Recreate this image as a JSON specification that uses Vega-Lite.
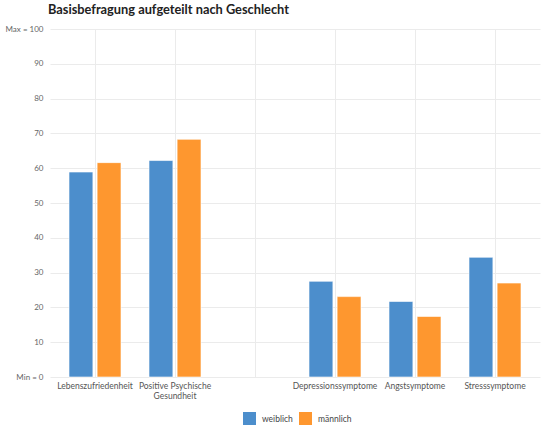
{
  "$schema": "https://vega.github.io/schema/vega-lite/v6.json",
  "width": 490,
  "height": 348,
  "autosize": {"type": "none"},
  "padding": {"left": 50, "top": 29, "right": 3, "bottom": 48},
  "background": "#ffffff",
  "title": {
    "text": "Basisbefragung aufgeteilt nach Geschlecht",
    "anchor": "start",
    "frame": "group",
    "dx": -2,
    "offset": 8,
    "font": "Lato",
    "fontSize": 12.8,
    "fontWeight": "bold",
    "color": "#222222"
  },
  "data": {
    "values": [
      {"bereich": "Lebenszufriedenheit", "geschlecht": "weiblich", "wert": 58.9},
      {"bereich": "Lebenszufriedenheit", "geschlecht": "männlich", "wert": 61.6},
      {"bereich": "Positive Psychische Gesundheit", "geschlecht": "weiblich", "wert": 62.2},
      {"bereich": "Positive Psychische Gesundheit", "geschlecht": "männlich", "wert": 68.3},
      {"bereich": "Depressionssymptome", "geschlecht": "weiblich", "wert": 27.5},
      {"bereich": "Depressionssymptome", "geschlecht": "männlich", "wert": 23.1},
      {"bereich": "Angstsymptome", "geschlecht": "weiblich", "wert": 21.7},
      {"bereich": "Angstsymptome", "geschlecht": "männlich", "wert": 17.4},
      {"bereich": "Stresssymptome", "geschlecht": "weiblich", "wert": 34.4},
      {"bereich": "Stresssymptome", "geschlecht": "männlich", "wert": 27.0}
    ]
  },
  "mark": {"type": "bar", "stroke": "#ffffff", "strokeOpacity": 0.6, "strokeWidth": 1},
  "encoding": {
    "x": {
      "field": "bereich",
      "type": "nominal",
      "sort": null,
      "scale": {
        "domain": ["Lebenszufriedenheit", "Positive Psychische Gesundheit", "", "Depressionssymptome", "Angstsymptome", "Stresssymptome"],
        "paddingInner": 0.35,
        "paddingOuter": 0.2375
      },
      "axis": {
        "title": null,
        "labelAngle": 0,
        "domain": false,
        "ticks": false,
        "grid": true,
        "gridColor": "#ebebeb",
        "labelFont": "Lato",
        "labelFontSize": 8.5,
        "labelColor": "#555555",
        "labelPadding": 4,
        "labelExpr": "datum.value == 'Positive Psychische Gesundheit' ? ['Positive Psychische', 'Gesundheit'] : datum.value"
      }
    },
    "xOffset": {
      "field": "geschlecht",
      "type": "nominal",
      "scale": {"domain": ["weiblich", "männlich"], "paddingInner": 0.15, "paddingOuter": 0}
    },
    "y": {
      "field": "wert",
      "type": "quantitative",
      "scale": {"domain": [0, 100], "nice": false},
      "axis": {
        "title": null,
        "values": [0, 10, 20, 30, 40, 50, 60, 70, 80, 90, 100],
        "labelExpr": "datum.value == 100 ? 'Max = 100' : datum.value == 0 ? 'Min = 0' : datum.label",
        "domain": false,
        "ticks": false,
        "labelPadding": 7,
        "labelFont": "Lato",
        "labelFontSize": 8,
        "labelColor": "#666666",
        "gridColor": "#ebebeb"
      }
    },
    "color": {
      "field": "geschlecht",
      "type": "nominal",
      "scale": {"domain": ["weiblich", "männlich"], "range": ["#4c8ecc", "#fe972f"]},
      "legend": {
        "title": null,
        "orient": "none",
        "direction": "horizontal",
        "legendX": 193,
        "legendY": 383,
        "symbolType": "square",
        "symbolSize": 169,
        "symbolStrokeWidth": 0,
        "symbolOpacity": 1,
        "columnPadding": 6,
        "labelFont": "Lato",
        "labelFontSize": 8.5,
        "labelColor": "#444444",
        "labelOffset": 6
      }
    }
  },
  "config": {"view": {"stroke": null}}
}
